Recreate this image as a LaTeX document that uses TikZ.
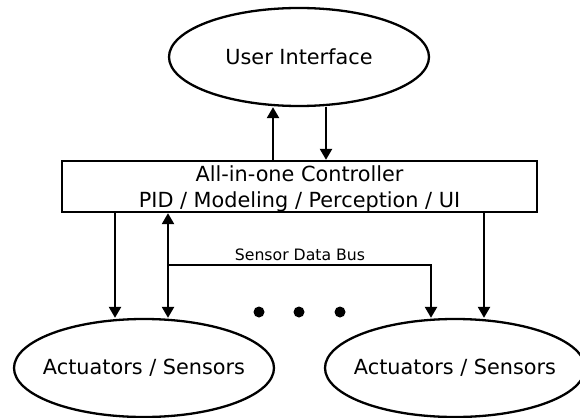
\documentclass[tikz,border=0pt]{standalone}
\usepackage{fontspec}
\setmainfont{DejaVu Sans}
\usetikzlibrary{shapes.geometric,arrows.meta}
\tikzset{
  >={Triangle[length=11pt,width=12pt]},
  blob/.style={draw, ellipse, minimum width=260pt, minimum height=98pt, inner sep=0pt},
  lbl/.style={font=\fontsize{20.8}{26}\selectfont},
  small/.style={font=\fontsize{15.7}{19}\selectfont}
}
\begin{document}
\begin{tikzpicture}[x=1pt, y=-1pt, line width=2.3pt]
\useasboundingbox (0,0) rectangle (580,417);
% user side
\node[blob] (ui) at (299,57) {};
\node[lbl] (uitext) at (ui) {User Interface};
% controller
\node[draw, minimum width=475pt, minimum height=51pt] (ctrl) at (299.5,186.5) {};
\node[lbl, align=center, inner sep=0pt, yshift=-2.5pt] (ctrltext) at (ctrl) {All-in-one Controller\\PID / Modeling / Perception / UI};
% field side
\node[blob] (act1) at (144,368) {};
\node[lbl] (act1text) at (act1) {Actuators / Sensors};
\node[blob] (act2) at (455,368) {};
\node[lbl] (act2text) at (act2) {Actuators / Sensors};
\draw[->] (ctrl.north -| 273,0) -- (ui.south -| 273,0);
\draw[->] (ui.south -| 326,0) -- (ctrl.north -| 326,0);
\draw[->] (ctrl.south -| 115,0) -- (act1.north -| 115,0);
\draw[<->] (ctrl.south -| 168,0) -- (act1.north -| 168,0);
\draw[->] (ctrl.south -| 484,0) -- (act2.north -| 484,0);
% bus
\coordinate (bus) at (168,265);
\draw[->] (bus) -| (act2.north -| 431,0);
\node[small, anchor=base] (buslbl) at (300,260) {Sensor Data Bus};
\foreach \x in {259, 299, 340}
    {\fill (\x,312) circle (5.5pt);};
\end{tikzpicture}
\end{document}
